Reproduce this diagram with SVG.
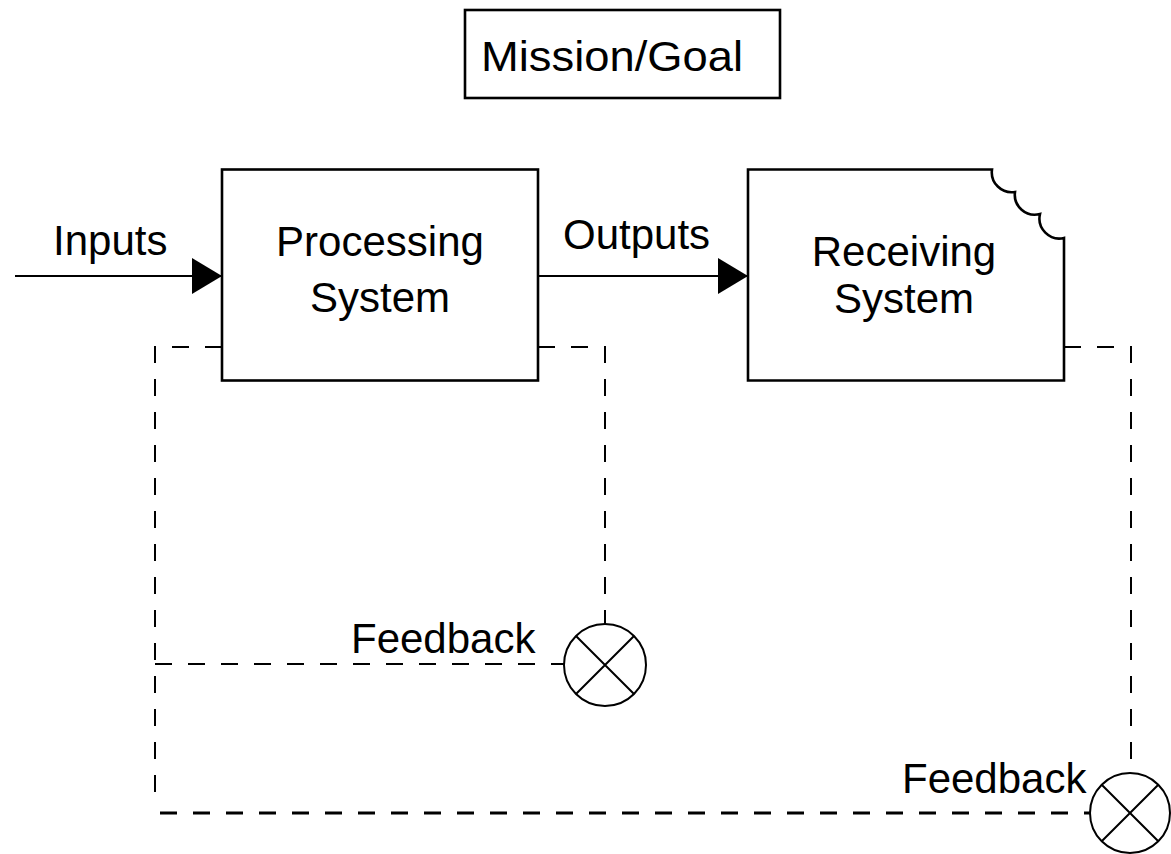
<svg xmlns="http://www.w3.org/2000/svg" width="1171" height="854" viewBox="0 0 1171 854">
<style>
text { font-family: "Liberation Sans", Arial, sans-serif; font-size: 42px; fill: #000; }
.box { fill: #fff; stroke: #000; stroke-width: 2.6; }
.solid { fill: none; stroke: #000; stroke-width: 2; }
.dash { fill: none; stroke: #000; stroke-width: 2; stroke-dasharray: 17 16; }
.dash3 { fill: none; stroke: #000; stroke-width: 3; stroke-dasharray: 17 16; }
.sum { fill: #fff; stroke: #000; stroke-width: 2; }
.mid { text-anchor: middle; }
</style>
<defs>
<marker id="arrow" markerUnits="userSpaceOnUse" markerWidth="32" markerHeight="36" refX="30" refY="18" orient="auto">
<path d="M0,0 L30,18 L0,36 Z" fill="#000"/>
</marker>
</defs>
<rect width="1171" height="854" fill="#fff"/>

<g id="connectors">
<path class="solid" d="M15,276 H222" marker-end="url(#arrow)"/>
<path class="solid" d="M538,276 H748" marker-end="url(#arrow)"/>
<path class="dash" d="M222,347 H155 V806"/>
<path class="dash3" d="M160,813 H1090"/>
<path class="dash" d="M155,664 H564"/>
<path class="dash" d="M538,347 H605 V624"/>
<path class="dash" d="M1064,347 H1131 V773"/>
</g>

<g id="mission">
<rect class="box" x="465" y="10" width="315" height="88" stroke-width="2"/>
<text x="481" y="71" font-size="40" textLength="262" lengthAdjust="spacingAndGlyphs">Mission/Goal</text>
</g>

<g id="inputs-label">
<text x="53" y="255">Inputs</text>
</g>
<g id="outputs-label">
<text x="563" y="249">Outputs</text>
</g>

<g id="processing">
<rect class="box" x="222" y="169.5" width="316" height="211"/>
<text class="mid" x="380" y="256">Processing</text>
<text class="mid" x="380" y="312">System</text>
</g>

<g id="receiving">
<path class="box" d="M748,169.5 H992 A20,20 0 0 0 1015,192 A20,20 0 0 0 1040,214 A20,20 0 0 0 1064,238 V380.5 H748 Z"/>
<text class="mid" x="904" y="266">Receiving</text>
<text class="mid" x="904" y="313">System</text>
</g>

<g id="feedback1">
<circle class="sum" cx="605" cy="665" r="41"/>
<path class="solid" d="M576,636 L634,694 M634,636 L576,694"/>
<text x="351" y="653" font-size="41">Feedback</text>
</g>

<g id="feedback2">
<circle class="sum" cx="1130" cy="813" r="40"/>
<path class="solid" d="M1101.7,784.7 L1158.3,841.3 M1158.3,784.7 L1101.7,841.3"/>
<text x="902" y="793" font-size="41">Feedback</text>
</g>
</svg>
